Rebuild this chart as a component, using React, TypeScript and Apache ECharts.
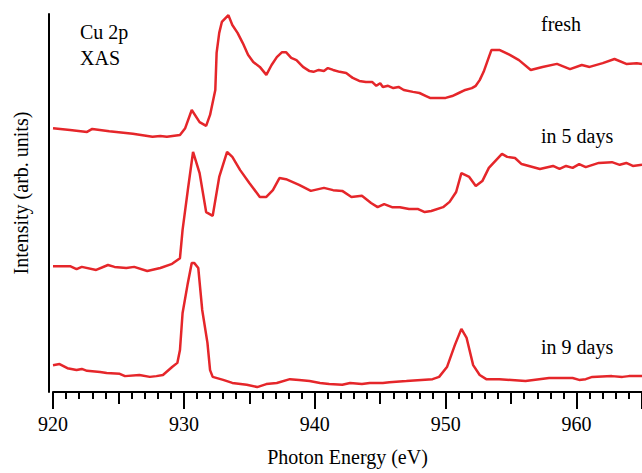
import React, { useEffect, useRef } from "react";
import * as echarts from "echarts";

// Photon energy (eV) and intensity (arb. units, offset traces)
const freshE = [920.0, 921.3, 922.6, 923.0, 924.3, 926.1, 927.6, 928.2, 928.7, 929.7, 930.1, 930.6, 931.2, 931.7, 932.0, 932.4, 932.5, 932.7, 932.9, 933.4, 933.7, 934.1, 934.5, 934.9, 935.3, 935.8, 936.3, 936.7, 937.1, 937.5, 937.8, 938.2, 938.6, 939.1, 939.6, 939.9, 940.3, 940.7, 941.0, 941.4, 941.9, 942.4, 942.7, 942.9, 943.4, 943.9, 944.4, 944.7, 945.0, 945.2, 945.6, 946.0, 946.4, 946.8, 947.5, 948.0, 948.5, 948.8, 949.3, 950.0, 950.5, 951.0, 951.5, 952.0, 952.3, 952.6, 952.9, 953.3, 953.5, 954.1, 954.9, 955.6, 956.5, 957.4, 958.5, 959.5, 960.4, 961.0, 962.0, 962.9, 963.8, 964.6, 965.0];
const freshI = [69.8, 69.3, 68.8, 69.6, 69.0, 68.3, 67.5, 67.7, 67.5, 68.0, 69.8, 74.6, 71.4, 70.4, 73.3, 79.9, 89.7, 95.0, 97.9, 99.7, 97.1, 95.0, 92.3, 89.2, 87.3, 86.0, 83.9, 86.5, 88.6, 89.9, 89.9, 88.4, 87.8, 86.0, 84.9, 84.7, 85.2, 84.9, 85.7, 85.2, 84.7, 84.4, 83.6, 83.1, 82.3, 82.0, 82.0, 81.0, 81.7, 80.7, 81.0, 80.4, 80.7, 79.9, 79.4, 79.1, 78.3, 77.8, 77.8, 77.8, 78.3, 79.1, 79.9, 80.4, 81.0, 82.5, 84.7, 88.6, 90.5, 90.5, 89.2, 87.8, 85.2, 86.0, 86.8, 85.4, 86.5, 86.0, 87.0, 88.1, 86.8, 87.0, 86.8];

const days5E = [920.0, 921.3, 921.8, 922.2, 923.3, 924.2, 924.7, 925.6, 926.2, 927.2, 928.2, 929.1, 929.7, 929.9, 930.3, 930.7, 931.2, 931.7, 932.2, 932.7, 933.3, 933.7, 934.3, 935.0, 935.8, 936.3, 936.8, 937.3, 937.8, 938.8, 939.7, 940.7, 941.4, 942.1, 942.8, 943.6, 944.3, 944.8, 945.3, 945.9, 946.5, 947.2, 947.9, 948.4, 948.9, 949.8, 950.3, 950.8, 951.2, 951.8, 952.3, 952.8, 953.3, 954.3, 954.7, 955.3, 955.8, 957.2, 958.2, 958.7, 959.2, 959.7, 960.2, 960.7, 961.7, 962.7, 963.3, 963.8, 964.3, 965.0];
const days5I = [33.3, 33.3, 32.5, 33.1, 32.3, 33.6, 33.1, 32.8, 33.1, 32.0, 32.8, 33.9, 35.4, 42.9, 53.4, 63.5, 57.9, 47.6, 46.6, 56.9, 63.5, 62.2, 58.7, 55.3, 51.6, 51.6, 53.4, 56.6, 56.3, 54.8, 53.2, 54.0, 53.4, 53.2, 51.6, 51.9, 50.0, 48.9, 49.7, 48.9, 48.9, 48.4, 48.4, 47.6, 47.9, 48.9, 50.3, 52.9, 57.9, 56.9, 54.5, 55.8, 59.3, 63.0, 62.2, 61.9, 60.3, 59.0, 59.8, 59.0, 59.8, 59.3, 60.3, 59.5, 60.6, 60.8, 60.1, 60.6, 59.8, 60.1];

const days9E = [920.0, 920.5, 921.1, 921.8, 922.2, 922.6, 923.6, 924.1, 925.1, 925.5, 926.6, 927.4, 927.9, 928.4, 929.1, 929.5, 929.7, 929.9, 930.3, 930.6, 930.8, 931.1, 931.4, 931.8, 932.0, 932.2, 933.0, 933.7, 934.8, 935.6, 936.3, 937.1, 938.1, 938.8, 939.6, 940.4, 941.1, 942.1, 942.7, 943.6, 944.2, 945.2, 945.7, 947.0, 949.0, 949.5, 950.1, 950.7, 951.2, 951.6, 952.1, 952.6, 953.1, 954.1, 956.1, 957.9, 959.7, 960.2, 960.7, 961.2, 962.7, 963.5, 964.0, 965.0];
const days9I = [7.1, 7.4, 6.3, 5.8, 6.1, 5.6, 5.3, 5.0, 4.8, 4.2, 4.5, 4.0, 4.2, 4.5, 6.6, 7.7, 11.1, 20.9, 28.8, 34.1, 34.1, 32.8, 21.7, 13.0, 5.8, 4.0, 3.2, 2.4, 1.9, 1.3, 2.1, 2.4, 3.4, 3.2, 2.9, 2.4, 2.1, 1.9, 2.4, 2.1, 2.4, 2.4, 2.6, 2.9, 3.4, 4.0, 6.6, 12.4, 16.7, 14.3, 7.1, 4.5, 3.4, 3.4, 2.9, 3.7, 3.7, 3.2, 3.4, 4.0, 4.2, 4.0, 4.2, 4.2];

const xTicks = [920, 930, 940, 950, 960];
const seriesNames = ["fresh", "in 5 days", "in 9 days"];

const RED = "#e5262a";
const FONT = "Times New Roman";

const zip = (xs: number[], ys: number[]) => xs.map((x, i) => [x, ys[i]]);

export default function App() {
  const ref = useRef<HTMLDivElement>(null);
  useEffect(() => {
    if (!ref.current) return;
    const chart = echarts.init(ref.current, null, { renderer: "svg" });
    const lineSeries = (name: string, data: number[][]) => ({
      name,
      type: "line",
      data,
      showSymbol: false,
      symbol: "none",
      xAxisIndex: 0,
      lineStyle: { color: RED, width: 2.5 },
      itemStyle: { color: RED },
    });
    const note = (text: string, left: number, top: number) => ({
      text,
      left,
      top,
      padding: 0,
      textStyle: { color: "#000", fontFamily: FONT, fontSize: 20, fontWeight: "normal" },
    });
    chart.setOption({
      animation: false,
      backgroundColor: "#ffffff",
      title: [
        note("Cu 2p", 80, 22),
        note("XAS", 80, 48),
        note(seriesNames[0], 541, 14),
        note(seriesNames[1], 541, 126),
        note(seriesNames[2], 541, 337),
      ],
      grid: { left: 53, right: 0, top: 14, bottom: 81, containLabel: false },
      xAxis: [
        {
          type: "value",
          min: 920,
          max: 965,
          interval: 10,
          name: "Photon Energy (eV)",
          nameLocation: "middle",
          nameGap: 55,
          nameTextStyle: { color: "#000", fontFamily: FONT, fontSize: 20 },
          axisLine: { show: true, onZero: false, lineStyle: { color: "#000", width: 2 } },
          axisTick: { show: true, length: 17, lineStyle: { color: "#000", width: 2 } },
          minorTick: { show: true, splitNumber: 10, length: 7, lineStyle: { color: "#000", width: 2 } },
          axisLabel: {
            color: "#000",
            fontFamily: FONT,
            fontSize: 20,
            margin: 22,
            showMaxLabel: false,
            formatter: (v: number) => (xTicks.includes(v) ? String(v) : ""),
          },
          splitLine: { show: false },
        },
        {
          type: "value",
          min: 920,
          max: 965,
          interval: 5,
          position: "bottom",
          axisLine: { show: false, onZero: false },
          axisTick: { show: true, length: 12, lineStyle: { color: "#000", width: 2 } },
          axisLabel: { show: false },
          splitLine: { show: false },
        },
      ],
      yAxis: {
        type: "value",
        min: 0,
        max: 100,
        offset: 4,
        name: "Intensity (arb. units)",
        nameLocation: "middle",
        nameRotate: 90,
        nameGap: 18,
        nameTextStyle: { color: "#000", fontFamily: FONT, fontSize: 20, padding: [0, 0, 0, 20] },
        axisLine: { show: true, lineStyle: { color: "#000", width: 2 } },
        axisTick: { show: false },
        axisLabel: { show: false },
        splitLine: { show: false },
      },
      series: [
        lineSeries(seriesNames[0], zip(freshE, freshI)),
        lineSeries(seriesNames[1], zip(days5E, days5I)),
        lineSeries(seriesNames[2], zip(days9E, days9I)),
      ],
    });
    return () => chart.dispose();
  }, []);
  return <div ref={ref} style={{ width: 642, height: 473, position: "absolute", left: 0, top: 0 }} />;
}
